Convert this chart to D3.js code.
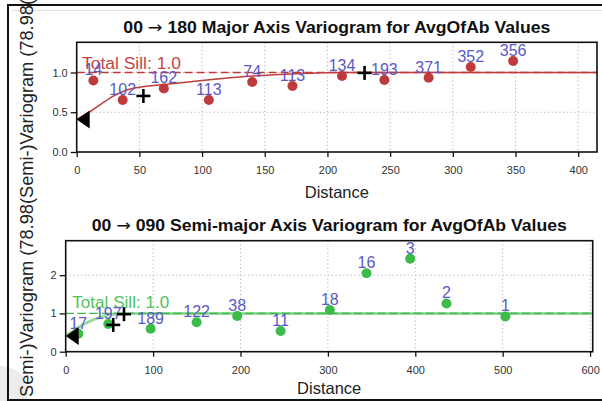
<!DOCTYPE html>
<html>
<head>
<meta charset="utf-8">
<script src="https://cdn.jsdelivr.net/npm/d3@7"></script>
<style>
  html, body { margin: 0; padding: 0; background: #fff; }
  svg { display: block; font-family: "Liberation Sans", Arial, Helvetica, sans-serif; }
</style>
</head>
<body>
<svg id="chart" width="602" height="401"></svg>
<script>
// ---- Major axis (00 -> 180) experimental variogram ----
const majorLags   = [13.3, 36.7, 69.5, 105.4, 140.0, 172.1, 211.6, 245.4, 280.7, 314.3, 348.1];
const majorGamma  = [0.90, 0.655, 0.80, 0.655, 0.88, 0.83, 0.955, 0.905, 0.935, 1.07, 1.145];
const majorPairs  = [14, 102, 162, 113, 74, 113, 134, 193, 371, 352, 356];
// fitted model curve, read as (distance, gamma) pairs
const majorModelH = [0, 10, 20, 30, 40, 50, 70, 100, 140, 175, 210, 415];
const majorModelG = [0.41, 0.50, 0.61, 0.71, 0.78, 0.815, 0.85, 0.90, 0.955, 0.985, 1.0, 1.0];
const majorCrossH = [53.2, 229.6];
const majorCrossG = [0.705, 0.995];
const majorNugget = 0.41;
const majorSill   = 1.0;
const majorXTicks = [0, 50, 100, 150, 200, 250, 300, 350, 400];
const majorYTicks = [0.0, 0.5, 1.0];

// ---- Semi-major axis (00 -> 090) experimental variogram ----
const semiLags    = [14.4, 48.7, 97.2, 149.8, 196.2, 245.9, 302.2, 344.2, 394.1, 435.7, 503.1];
const semiGamma   = [0.47, 0.725, 0.60, 0.77, 0.935, 0.54, 1.09, 2.05, 2.43, 1.26, 0.92];
const semiPairs   = [17, 197, 189, 122, 38, 11, 18, 16, 3, 2, 1];
const semiModelH  = [0, 12, 22, 32, 42, 52, 65, 603];
const semiModelG  = [0.41, 0.60, 0.73, 0.84, 0.92, 0.97, 1.0, 1.0];
const semiCrossH  = [54.4, 66.7];
const semiCrossG  = [0.70, 0.98];
const semiNugget  = 0.41;
const semiSill    = 1.0;
const semiXTicks  = [0, 100, 200, 300, 400, 500, 600];
const semiYTicks  = [0, 1, 2];

const svg = d3.select("#chart");

// soft grey smudge in the lower-left corner and the outer frame
svg.append("circle").attr("cx", 2).attr("cy", 392).attr("r", 26).attr("fill", "#ececec");
svg.append("line").attr("x1", 12).attr("x2", 602).attr("y1", 10.5).attr("y2", 10.5)
  .attr("stroke", "#e2e2e2").attr("stroke-width", 1);
svg.append("path").attr("d", "M602,5 L8,5 L8,400 L602,400")
  .attr("fill", "none").attr("stroke", "#111").attr("stroke-width", 2);

function panel(cfg) {
  const { left, right, top, bottom, xMax, yMax } = cfg;
  const x = d3.scaleLinear().domain([0, xMax]).range([left, right]);
  const y = d3.scaleLinear().domain([0, yMax]).range([bottom, top]);
  const g = svg.append("g");

  const clipId = "clip-" + cfg.id;
  svg.append("clipPath").attr("id", clipId)
    .append("rect").attr("x", left).attr("y", top).attr("width", right - left).attr("height", bottom - top);

  // dotted grid
  const grid = g.append("g").attr("stroke", "#b4b4b4").attr("stroke-width", 1).attr("stroke-dasharray", "1.2,2.6");
  grid.selectAll("line.vx").data(cfg.xTicks.filter(t => t > 0)).join("line")
    .attr("x1", d => x(d)).attr("x2", d => x(d)).attr("y1", top).attr("y2", bottom);
  grid.selectAll("line.hy").data(cfg.yTicks.filter(t => t > 0)).join("line")
    .attr("x1", left).attr("x2", right).attr("y1", d => y(d)).attr("y2", d => y(d));

  // axes
  const xAxis = g.append("g").attr("transform", `translate(0,${bottom})`)
    .call(d3.axisBottom(x).tickValues(cfg.xTicks).tickFormat(d3.format("d")).tickSize(5).tickSizeOuter(0));
  const yAxis = g.append("g").attr("transform", `translate(${left},0)`)
    .call(d3.axisLeft(y).tickValues(cfg.yTicks).tickFormat(d3.format(cfg.yFormat)).tickSize(6).tickSizeOuter(0));
  [xAxis, yAxis].forEach(a => {
    a.select(".domain").remove();
    a.selectAll(".tick line").attr("stroke", "#111").attr("stroke-width", 1.3);
    a.selectAll(".tick text").attr("fill", "#333").style("font-size", "11px");
  });
  xAxis.selectAll(".tick text").attr("dy", "0.35em").attr("y", 18);
  yAxis.selectAll(".tick text").attr("x", -9);

  const plot = g.append("g").attr("clip-path", `url(#${clipId})`);

  // fitted model
  const line = d3.line().x(d => x(d[0])).y(d => y(d[1])).curve(d3.curveMonotoneX);
  const model = cfg.modelH.map((h, i) => [h, cfg.modelG[i]]);
  plot.append("path").datum(model).attr("d", line)
    .attr("fill", "none").attr("stroke", cfg.modelColor)
    .attr("stroke-width", cfg.modelWidth).attr("stroke-opacity", cfg.modelOpacity);

  // total sill
  plot.append("line").attr("x1", left).attr("x2", right)
    .attr("y1", y(cfg.sill)).attr("y2", y(cfg.sill))
    .attr("stroke", cfg.sillColor).attr("stroke-width", 1.4).attr("stroke-dasharray", "8,4");

  g.append("text").attr("x", x(cfg.sillLabelX)).attr("y", y(cfg.sill) - cfg.sillLabelDy)
    .attr("fill", cfg.sillTextColor).style("font-size", "16px")
    .attr("textLength", cfg.sillLabelLen).attr("lengthAdjust", "spacingAndGlyphs")
    .text("Total Sill: " + cfg.sill.toFixed(1));

  // experimental points
  const pts = cfg.lags.map((h, i) => ({ h, v: cfg.gamma[i], n: cfg.pairs[i] }));
  g.selectAll("circle.pt").data(pts).join("circle")
    .attr("cx", d => x(d.h)).attr("cy", d => y(d.v)).attr("r", 5)
    .attr("fill", cfg.pointColor);

  // pair counts
  g.selectAll("text.pairs").data(pts).join("text")
    .attr("x", d => x(d.h)).attr("y", d => y(d.v) - 5)
    .attr("text-anchor", "middle").attr("fill", "#5a5ac6").style("font-size", "16px")
    .text(d => d.n);

  // nugget marker
  g.append("path").attr("d", "M0,0 L13,-9 L13,9 Z")
    .attr("transform", `translate(${x(0)},${y(cfg.nugget)})`).attr("fill", "#000");

  // range markers
  const crosses = cfg.crossH.map((h, i) => [h, cfg.crossG[i]]);
  const cg = g.selectAll("g.cross").data(crosses).join("g")
    .attr("transform", d => `translate(${x(d[0])},${y(d[1])})`);
  cg.append("line").attr("x1", -7).attr("x2", 7).attr("stroke", "#000").attr("stroke-width", 2.6);
  cg.append("line").attr("y1", -7).attr("y2", 7).attr("stroke", "#000").attr("stroke-width", 2.6);

  // frame
  g.append("rect").attr("x", left).attr("y", top).attr("width", right - left).attr("height", bottom - top)
    .attr("fill", "none").attr("stroke", "#111").attr("stroke-width", 1.6);

  // title (arrow set in a font with a full-width arrow glyph) and axis label
  const t = g.append("text").attr("x", (left + right) / 2).attr("y", cfg.titleY)
    .attr("text-anchor", "middle").attr("fill", "#111")
    .style("font-size", "16px").style("font-weight", "bold")
    .attr("textLength", cfg.titleLen).attr("lengthAdjust", "spacingAndGlyphs");
  t.append("tspan").text(cfg.titleParts[0] + " ");
  t.append("tspan").style("font-family", "'DejaVu Sans', sans-serif").style("font-weight", "normal").text("\u2192");
  t.append("tspan").text(" " + cfg.titleParts[1]);
  g.append("text").attr("x", (left + right) / 2).attr("y", cfg.xLabelY)
    .attr("text-anchor", "middle").attr("fill", "#222").style("font-size", "16.5px")
    .text("Distance");
}

panel({
  id: "major", left: 76.7, right: 597, top: 42.3, bottom: 152, xMax: 415, yMax: 1.38,
  xTicks: majorXTicks, yTicks: majorYTicks, yFormat: ".1f",
  lags: majorLags, gamma: majorGamma, pairs: majorPairs,
  modelH: majorModelH, modelG: majorModelG, modelColor: "#c23b3b", modelWidth: 1.5, modelOpacity: 1,
  crossH: majorCrossH, crossG: majorCrossG, nugget: majorNugget, sill: majorSill,
  sillColor: "#c23b3b", sillTextColor: "#c84444", sillLabelX: 4.2, sillLabelDy: 4, sillLabelLen: 99,
  pointColor: "#bf3a3a",
  titleParts: ["00", "180 Major Axis Variogram for AvgOfAb Values"], titleY: 33.3, titleLen: 427,
  xLabelY: 197.5
});

panel({
  id: "semi", left: 65.7, right: 592.7, top: 240.7, bottom: 351.7, xMax: 603, yMax: 2.9,
  xTicks: semiXTicks, yTicks: semiYTicks, yFormat: "d",
  lags: semiLags, gamma: semiGamma, pairs: semiPairs,
  modelH: semiModelH, modelG: semiModelG, modelColor: "#44c050", modelWidth: 3, modelOpacity: 0.55,
  crossH: semiCrossH, crossG: semiCrossG, nugget: semiNugget, sill: semiSill,
  sillColor: "#3cb848", sillTextColor: "#52c25a", sillLabelX: 7.5, sillLabelDy: 5, sillLabelLen: 97,
  pointColor: "#3dbb4a",
  titleParts: ["00", "090 Semi-major Axis Variogram for AvgOfAb Values"], titleY: 230.7, titleLen: 475,
  xLabelY: 393.5
});

// shared vertical axis label running up the left edge
svg.append("text")
  .attr("transform", "translate(33,397) rotate(-90)")
  .attr("fill", "#222").style("font-size", "18px")
  .attr("textLength", 398).attr("lengthAdjust", "spacingAndGlyphs")
  .text("Semi-)Variogram (78.98(Semi-)Variogram (78.98(");
</script>
</body>
</html>
